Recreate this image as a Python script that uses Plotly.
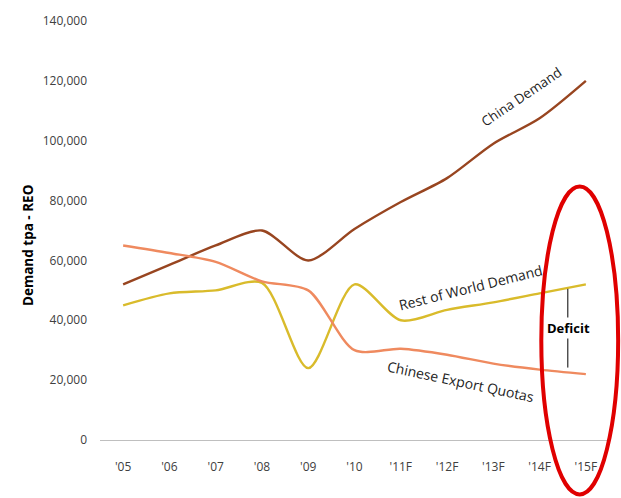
import plotly.graph_objects as go

years = ["'05", "'06", "'07", "'08", "'09", "'10", "'11F", "'12F", "'13F", "'14F", "'15F"]
china_demand = [52000, 58500, 65000, 70000, 60000, 70500, 79500, 87500, 99000, 107500, 120000]
row_demand = [45000, 49000, 50000, 52500, 24000, 52000, 40000, 43500, 46000, 49000, 52000]
export_quotas = [65000, 62500, 59500, 53000, 50000, 30000, 30500, 28500, 25500, 23500, 22000]
y_ticks = [0, 20000, 40000, 60000, 80000, 100000, 120000, 140000]

xs = list(range(len(years)))
fig = go.Figure()
for vals, col in [(china_demand, "#984520"), (row_demand, "#D9BB2B"), (export_quotas, "#EF8A5F")]:
    fig.add_trace(go.Scatter(x=xs, y=vals, mode="lines", line=dict(color=col, width=2.4, shape="spline", smoothing=0.8),
                             hoverinfo="skip", showlegend=False))

font_family = "Open Sans, Liberation Sans, sans-serif"
fig.update_layout(
    width=621, height=498,
    margin=dict(l=100, r=12, t=17, b=58),
    paper_bgcolor="white", plot_bgcolor="white",
    font=dict(family=font_family, size=12, color="#404040"),
    xaxis=dict(range=[-0.5, 10.5], tickvals=xs, ticktext=years, showgrid=False, zeroline=False,
               showline=True, linecolor="#BFBFBF", linewidth=1, ticks="", ticklabelstandoff=16,
               tickfont=dict(size=12, color="#404040")),
    yaxis=dict(range=[0, 140000], tickvals=y_ticks, tickformat=",d", showgrid=False, zeroline=False,
               showline=False, ticks="", ticklabelstandoff=12,
               tickfont=dict(size=12, color="#404040")),
)

# Y-axis title
fig.add_annotation(xref="paper", yref="paper", x=-0.163, y=0.463, text="<b>Demand tpa - REO</b>",
                   showarrow=False, textangle=-90, font=dict(size=13.5, color="#000000"))

# Series labels
fig.add_annotation(x=8.6, y=114500, text="China Demand", showarrow=False, textangle=-34,
                   font=dict(size=13.5, color="#222222"))
fig.add_annotation(x=7.5, y=50800, text="Rest of World Demand", showarrow=False, textangle=-14,
                   font=dict(size=14, color="#222222"))
fig.add_annotation(x=7.3, y=19700, text="Chinese Export Quotas", showarrow=False, textangle=12,
                   font=dict(size=14, color="#222222"))

# Deficit marker
fig.add_shape(type="line", x0=9.61, x1=9.61, y0=row_demand[-1] - 1500, y1=export_quotas[-1] + 2200,
              line=dict(color="#000000", width=1))
fig.add_annotation(x=9.63, y=37500, text="<b>Deficit</b>", showarrow=False, bgcolor="white",
                   font=dict(size=13, color="#000000"))

# Red ellipse highlight
fig.add_shape(type="circle", xref="paper", yref="paper", x0=0.867, x1=1.018, y0=-0.13, y1=0.605,
              line=dict(color="#E00000", width=4), layer="above")

fig.write_html("out.html", config={"displayModeBar": False},
               post_script="document.body.style.margin='0';document.body.style.overflow='hidden';")
